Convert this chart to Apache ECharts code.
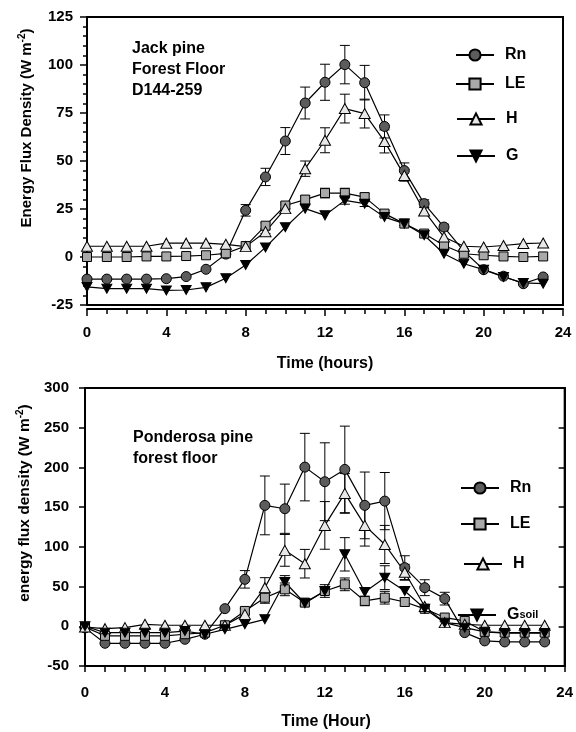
<!DOCTYPE html>
<html>
<head>
<meta charset="utf-8">
<script src="https://cdn.jsdelivr.net/npm/echarts@6/dist/echarts.min.js"></script>
<style>html,body{margin:0;padding:0;background:#fff}#c{width:576px;height:732px}</style>
</head>
<body>
<div id="c"></div>
<script>
// ---------- data ----------
const hours = [0,1,2,3,4,5,6,7,8,9,10,11,12,13,14,15,16,17,18,19,20,21,22,23];
const xTicks = [0,4,8,12,16,20,24];

// Jack pine forest floor (top panel)
const jpRn    = [-11.5,-11.5,-11.5,-11.5,-11.3,-10.2,-6.4,1.5,24.3,41.7,60.4,80.2,91,100.2,90.8,68,45,27.8,15.6,3,-6.6,-10,-13.9,-10.4];
const jpRnErr = [0,0,0,0,0,0,0,0,3,4.5,7,8.3,9.4,10,9,6,4,2,1.5,0,0,0,0,0];
const jpLE    = [0,0,0,0.3,0.3,0.5,0.9,1.9,5.7,16.3,26.8,29.9,33.3,33.3,31.2,22.6,17.4,12.2,6,1.7,0.9,0.3,0,0.3];
const jpLEErr = [0,0,0,0,0,0,0,0,0,1.5,1.5,2,2.5,2.5,2,1.5,1,0,0,0,0,0,0,0];
const jpH     = [5.6,5.6,5.6,5.6,7.2,7.2,7.2,6.6,5.4,13.2,25.2,46,60.8,77.3,74.7,60.2,42.5,24,10.4,5.6,5.2,6,7,7.3];
const jpHErr  = [0,0,0,0,0,0,0,0,0,1,2,4,6.5,7.5,7.5,6,3,2,0,0,0,0,0,0];
const jpG     = [-15.6,-16.5,-16.5,-16.5,-17.4,-17.2,-15.8,-11.1,-4.2,5,15.5,25.2,21.7,29.5,27.8,20.8,17.4,11.3,1.7,-3.5,-6.6,-10.4,-13.5,-13.9];
const jpGErr  = [0,0,0,0,0,0,0,0,0,0,0,0,0,2,1.5,0,0,0,0,0,0,0,0,0];
const jpYTicks = [-25,0,25,50,75,100,125];

// Ponderosa pine forest floor (bottom panel)
const ppRn    = [-2,-21.4,-21.4,-21.4,-21.4,-16.4,-10,22.2,59.1,152.2,148,200.4,182,197.5,152.2,157.6,73.8,48.6,34.8,-8,-18.4,-19.7,-19.7,-19.7];
const ppRnErr = [0,0,0,0,0,0,0,0,11,37,31,42.5,49,54.5,42,36,15,10,8,0,0,0,0,0];
const ppLE    = [-1,-12,-12,-12,-12,-10,-8,1.3,19.3,36,46.5,29.8,44.4,52.8,31.9,36,30.6,22,11,6.7,-7,-8,-8,-8];
const ppLEErr = [0,0,0,0,0,0,0,0,3,7,8,4,8,8,6,8,5,3,0,0,0,0,0,0];
const ppH     = [-1,-3,-1.7,2.5,1.3,1.3,1.3,1.3,15,48.6,95.6,78.8,127,167.3,127,103,68,25,4.6,2.5,1.3,1.3,1.3,1.3];
const ppHErr  = [0,0,0,0,0,0,0,0,0,12.6,20,18,30,25,26,24,10,0,0,0,0,0,0,0];
const ppG     = [0,-8,-8,-8,-8,-6,-10,-3.8,2.5,8.8,55.8,29,44.4,90.6,43.2,61.2,44.4,22,4.6,-1.7,-7,-8.5,-8.5,-8.5];
const ppGErr  = [0,0,0,0,0,0,0,0,0,0,8,0,0,21,0,15,0,0,0,0,0,0,0,0];
const ppYTicks = [-50,0,50,100,150,200,250,300];

const labelNames = {Rn_a:'Rn', LE_a:'LE', H_a:'H', G_a:'G', Rn_b:'Rn', LE_b:'LE', H_b:'H', G_b:'G{sub|soil}'};

// ---------- helpers ----------
const FONT = '"Liberation Sans", Arial, Helvetica, sans-serif';
const pairs = v => hours.map((h, i) => [h, v[i]]);
const errs = (v, e) => hours.map((h, i) => [h, v[i], e[i]]);

const STY = {
  Rn: {symbol: 'circle', size: 10, fill: '#5c5c5c'},
  LE: {symbol: 'rect', size: 9, fill: '#a9a9a9'},
  H:  {symbol: 'triangle', size: [11, 10], fill: '#e8e8e8'},
  G:  {symbol: 'path://M0,0L10,0L5,9Z', size: [10, 9], fill: '#000'}
};

function lineSeries(name, kind, v, gi) {
  const s = STY[kind];
  return {
    type: 'line', name: name, xAxisIndex: gi, yAxisIndex: gi,
    data: pairs(v), symbol: s.symbol, symbolSize: s.size,
    showSymbol: true, showAllSymbol: true,
    itemStyle: {color: s.fill, borderColor: '#000', borderWidth: 1},
    lineStyle: {color: '#000', width: 1.2},
    z: 3, animation: false, silent: true
  };
}
function errSeries(v, e, gi) {
  return {
    type: 'custom', xAxisIndex: gi, yAxisIndex: gi, z: 2, silent: true, animation: false,
    data: errs(v, e), encode: {x: 0, y: 1},
    renderItem: function (params, api) {
      const x = api.value(0), y = api.value(1), d = api.value(2);
      if (!d) return null;
      const t = api.coord([x, y + d]), b = api.coord([x, y - d]);
      const w = 5;
      const st = {stroke: '#000', lineWidth: 1};
      return {type: 'group', children: [
        {type: 'line', shape: {x1: t[0], y1: t[1], x2: b[0], y2: b[1]}, style: st},
        {type: 'line', shape: {x1: t[0] - w, y1: t[1], x2: t[0] + w, y2: t[1]}, style: st},
        {type: 'line', shape: {x1: b[0] - w, y1: b[1], x2: b[0] + w, y2: b[1]}, style: st}
      ]};
    }
  };
}
function legendItem(name, left, cy) {
  return {
    data: [name], left: left, top: cy - 7, itemWidth: 38, itemHeight: 14, padding: 0,
    selectedMode: false, orient: 'vertical',
    formatter: n => labelNames[n],
    textStyle: {fontFamily: FONT, fontWeight: 'bold', fontSize: 16, color: '#000', padding: [0, 0, 0, 6],
      rich: {
        g: {fontFamily: FONT, fontWeight: 'bold', fontSize: 16, color: '#000', padding: [0, 0, 5, 0]},
        sub: {fontFamily: FONT, fontWeight: 'bold', fontSize: 11, color: '#000'}
      }}
  };
}
const axisLine = {show: true, onZero: false, lineStyle: {color: '#000', width: 2}};
const lbl = (m) => ({fontFamily: FONT, fontWeight: 'bold', fontSize: 15, color: '#000', margin: m});

const chart = echarts.init(document.getElementById('c'));
const option = {
  animation: false,
  backgroundColor: '#fff',
  grid: [
    {left: 87, top: 17, width: 476, height: 288, show: true, borderColor: '#000', borderWidth: 2, backgroundColor: 'transparent'},
    {left: 85, top: 388, width: 482, height: 278, show: true, borderColor: '#000', borderWidth: 2, backgroundColor: 'transparent'}
  ],
  xAxis: [
    {gridIndex: 0, type: 'value', min: xTicks[0], max: xTicks[xTicks.length - 1], interval: 4, offset: 4,
     axisLine: axisLine, axisTick: {show: true, length: 7, lineStyle: {color: '#000', width: 1.5}},
     minorTick: {show: true, splitNumber: 4, length: 5, lineStyle: {color: '#000', width: 1.5}},
     splitLine: {show: false}, axisLabel: lbl(16)},
    {gridIndex: 1, type: 'value', min: xTicks[0], max: xTicks[xTicks.length - 1], interval: 4,
     axisLine: axisLine, axisTick: {show: true, length: 6, lineStyle: {color: '#000', width: 1.5}},
     minorTick: {show: true, splitNumber: 4, length: 6, lineStyle: {color: '#000', width: 1.5}},
     splitLine: {show: false}, axisLabel: lbl(19)}
  ],
  yAxis: [
    {gridIndex: 0, type: 'value', min: jpYTicks[0], max: jpYTicks[jpYTicks.length - 1], interval: 25,
     axisLine: axisLine, axisTick: {show: true, length: 7, lineStyle: {color: '#000', width: 1.5}},
     minorTick: {show: true, splitNumber: 5, length: 4, lineStyle: {color: '#000', width: 1.5}},
     splitLine: {show: false}, axisLabel: lbl(14)},
    {gridIndex: 1, type: 'value', min: ppYTicks[0], max: ppYTicks[ppYTicks.length - 1], interval: 50,
     axisLine: axisLine, axisTick: {show: true, length: 6, lineStyle: {color: '#000', width: 1.5}},
     splitLine: {show: false}, axisLabel: lbl(16)},
    {gridIndex: 1, type: 'value', position: 'right', min: ppYTicks[0], max: ppYTicks[ppYTicks.length - 1], interval: 50,
     axisLine: axisLine, axisTick: {show: true, inside: true, length: 6, lineStyle: {color: '#000', width: 1.5}},
     splitLine: {show: false}, axisLabel: {show: false}}
  ],
  legend: [
    legendItem('Rn_a', 455, 54), legendItem('LE_a', 455, 83), legendItem('H_a', 456, 118), legendItem('G_a', 456, 155),
    legendItem('Rn_b', 460, 487), legendItem('LE_b', 460, 523), legendItem('H_b', 463, 563), legendItem('G_b', 457, 614)
  ],
  graphic: [
    {type: 'text', x: 132, y: 38, style: {text: 'Jack pine\nForest Floor\nD144-259', fontFamily: FONT, fontWeight: 'bold', fontSize: 16, lineHeight: 21, fill: '#000', align: 'left', verticalAlign: 'top'}},
    {type: 'text', x: 133, y: 427, style: {text: 'Ponderosa pine\nforest floor', fontFamily: FONT, fontWeight: 'bold', fontSize: 16, lineHeight: 21, fill: '#000', align: 'left', verticalAlign: 'top'}},
    {type: 'text', x: 325, y: 364, style: {text: 'Time (hours)', fontFamily: FONT, fontWeight: 'bold', fontSize: 16, fill: '#000', align: 'center', verticalAlign: 'middle'}},
    {type: 'text', x: 326, y: 722, style: {text: 'Time (Hour)', fontFamily: FONT, fontWeight: 'bold', fontSize: 16, fill: '#000', align: 'center', verticalAlign: 'middle'}},
    {type: 'text', x: 27, y: 128, rotation: Math.PI / 2, style: {text: '{t|Energy Flux Density (W m}{sup|-2}{t|)}', align: 'center', verticalAlign: 'middle', fill: '#000',
      rich: {t: {fontFamily: FONT, fontWeight: 'bold', fontSize: 15, fill: '#000'}, sup: {fontFamily: FONT, fontWeight: 'bold', fontSize: 10, fill: '#000', padding: [0, 0, 9, 0]}}}},
    {type: 'text', x: 25, y: 503, rotation: Math.PI / 2, style: {text: '{t|energy flux density (W m}{sup|-2}{t|)}', align: 'center', verticalAlign: 'middle', fill: '#000',
      rich: {t: {fontFamily: FONT, fontWeight: 'bold', fontSize: 15.5, fill: '#000'}, sup: {fontFamily: FONT, fontWeight: 'bold', fontSize: 10, fill: '#000', padding: [0, 0, 9, 0]}}}}
  ],
  series: [
    errSeries(jpRn, jpRnErr, 0), errSeries(jpLE, jpLEErr, 0), errSeries(jpH, jpHErr, 0), errSeries(jpG, jpGErr, 0),
    lineSeries('Rn_a', 'Rn', jpRn, 0), lineSeries('LE_a', 'LE', jpLE, 0), lineSeries('H_a', 'H', jpH, 0), lineSeries('G_a', 'G', jpG, 0),
    errSeries(ppRn, ppRnErr, 1), errSeries(ppLE, ppLEErr, 1), errSeries(ppH, ppHErr, 1), errSeries(ppG, ppGErr, 1),
    lineSeries('Rn_b', 'Rn', ppRn, 1), lineSeries('LE_b', 'LE', ppLE, 1), lineSeries('H_b', 'H', ppH, 1), lineSeries('G_b', 'G', ppG, 1)
  ]
};
chart.setOption(option);
</script>
</body>
</html>
